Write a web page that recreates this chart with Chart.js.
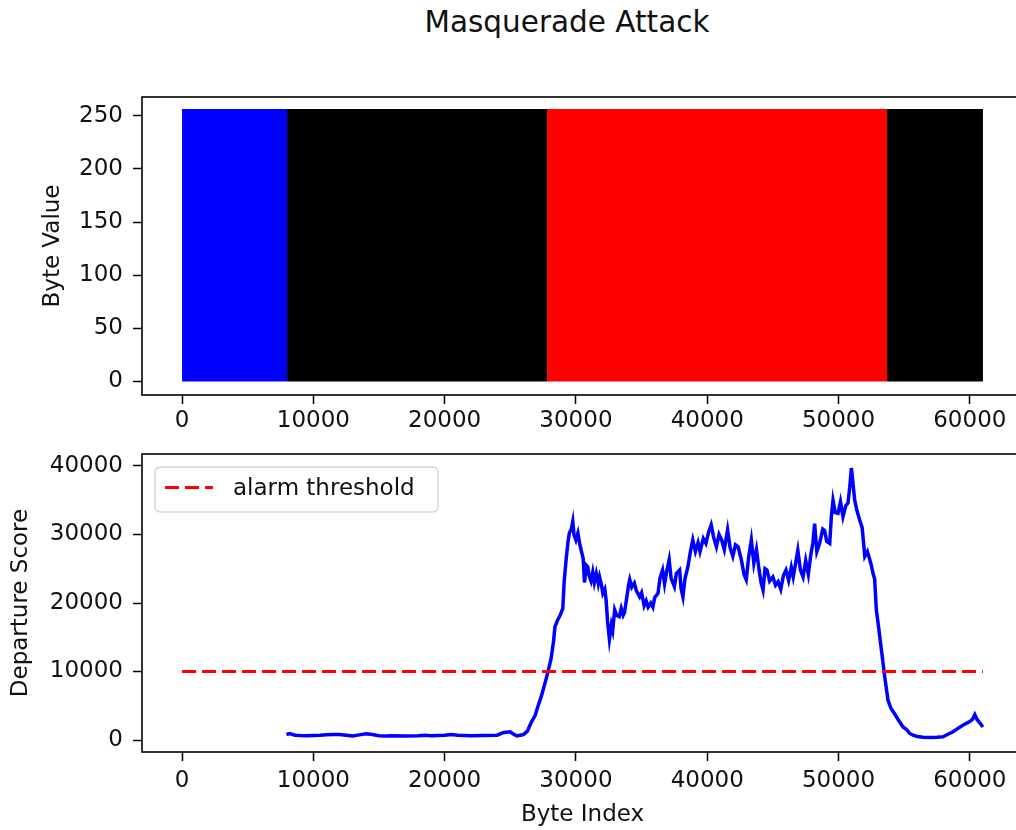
<!DOCTYPE html>
<html>
<head>
<meta charset="utf-8">
<script src="https://cdn.jsdelivr.net/npm/chart.js@4.4.1/dist/chart.umd.min.js"></script>
<style>
  html, body { margin: 0; padding: 0; background: #fff; overflow: hidden; width: 1016px; height: 830px; }
  #title { position: absolute; left: 0; top: 5px; width: 1134px; text-align: center;
           font: 29.5px "DejaVu Sans", sans-serif; line-height: 34px; color: #111; }
  canvas { position: absolute; left: 0; }
  #bytes { top: 0; }
  #score { top: 440px; }
</style>
</head>
<body>
<div id="title">Masquerade Attack</div>
<canvas id="bytes" width="1040" height="440"></canvas>
<canvas id="score" width="1040" height="390"></canvas>
<script>
// byte stream segments (start/end index), values span the full 0..255 range
const segStart = [0, 8000, 27800, 53700];
const segEnd = [8000, 27800, 53700, 61000];
const byteMax = 255;

const byteTicks = [0, 50, 100, 150, 200, 250];
const indexTicks = [0, 10000, 20000, 30000, 40000, 50000, 60000];
const scoreTicks = [0, 10000, 20000, 30000, 40000];

const threshold = 10000;
const thresholdStart = 0;
const thresholdEnd = 61000;

// departure score
const scoreIdx = [
  7950, 8200, 8600, 9000, 9500, 10000, 10500, 11000, 11500, 12000,
  12500, 13000, 13500, 14000, 14500, 15000, 15500, 16000, 17000, 18000,
  18500, 19000, 20000, 20500, 21000, 22000, 23000, 24000, 24500, 25000,
  25200, 25500, 26000, 26300, 26600, 26900, 27100, 27300, 27500, 27700,
  27900, 28100, 28300, 28400, 28600, 28800, 29000, 29100, 29250, 29400,
  29500, 29650, 29760, 29850, 30000, 30150, 30300, 30400, 30550, 30650,
  30800, 30900, 31000, 31150, 31280, 31400, 31550, 31700, 31800, 31950,
  32050, 32200, 32300, 32400, 32550, 32700, 32800, 32950, 33100, 33300,
  33450, 33600, 33700, 33850, 34000, 34100, 34250, 34450, 34600, 34850,
  35000, 35200, 35350, 35500, 35700, 35860, 36000, 36250, 36400, 36600,
  36750, 36900, 37100, 37250, 37500, 37650, 37900, 38000, 38150, 38300,
  38530, 38700, 38900, 39100, 39300, 39450, 39700, 39900, 40100, 40300,
  40500, 40700, 40900, 41100, 41300, 41550, 41750, 41950, 42150, 42350,
  42600, 42800, 42970, 43150, 43360, 43550, 43750, 43950, 44100, 44250,
  44400, 44550, 44750, 45000, 45200, 45400, 45600, 45800, 46000, 46200,
  46400, 46550, 46750, 46900, 47100, 47300, 47500, 47700, 47900, 48050,
  48180, 48350, 48560, 48800, 48940, 49100, 49330, 49450, 49580, 49750,
  49960, 50150, 50340, 50550, 50720, 50850, 50980, 51100, 51230, 51400,
  51610, 51800, 52000, 52200, 52380, 52500, 52630, 52750, 52880, 53050,
  53270, 53520, 53770, 54000, 54280, 54600, 54910, 55200, 55400, 55680,
  56000, 56440, 57000, 57500, 57960, 58300, 58720, 59100, 59490, 59800,
  60000, 60200, 60380, 60550, 60760, 61000
];
const scoreVal = [
  800, 950, 700, 650, 620, 650, 700, 780, 820, 800,
  700, 600, 750, 900, 800, 620, 600, 620, 600, 640,
  700, 620, 680, 800, 700, 620, 650, 700, 1100, 1200,
  900, 600, 800, 1300, 2600, 3600, 4900, 6000, 7300, 8700,
  10200, 11800, 14500, 16500, 17500, 18200, 19200, 23000, 26300, 29000,
  30200, 30800, 31900, 30000, 29200, 30200, 28500, 27700, 26500, 23000,
  25500, 25300, 24000, 23200, 24500, 23000, 24300, 22800, 23800, 22600,
  21400, 22000, 20400, 17500, 14700, 16800, 16000, 19000, 18200, 18000,
  19200, 18200, 18600, 20500, 22500, 23400, 22300, 22900, 21800, 20900,
  21500, 19600, 20300, 19400, 20000, 19400, 20800, 21400, 23600, 24800,
  22800, 24500, 26300, 23600, 22400, 24300, 24800, 22200, 20900, 23500,
  25300, 27300, 29200, 27500, 28800, 27500, 29400, 28700, 30300, 31400,
  29500, 28200, 30000, 29200, 27800, 30700, 28000, 26800, 28500, 28200,
  26300, 24200, 23400, 26600, 29200, 25800, 27800, 24800, 23000, 21900,
  25000, 24800, 23200, 23800, 22600, 23100, 22000, 24000, 24800, 23300,
  25200, 23800, 26000, 27700, 24800, 23800, 26200, 24200, 27200, 28800,
  31600, 27500, 28700, 30800, 30600, 29000, 28700, 32500, 35000, 33200,
  33100, 34800, 32600, 34200, 34600, 36800, 39700, 37500, 35000, 33500,
  32100, 31000, 26800, 27500, 26300, 25500, 24300, 23500, 19000, 16500,
  13100, 9200, 5800, 4600, 3800, 2800, 1900, 1500, 1000, 700,
  500, 400, 380, 420, 480, 800, 1200, 1700, 2200, 2500,
  2700, 3000, 3700, 3000, 2500, 1900
];

const SEG_COLORS = ["#0000ff", "#000000", "#ff0000", "#000000"];
const FONT = { family: "'DejaVu Sans', sans-serif", size: 23 };
const TEXT = "#111";

// full box round the axes, like matplotlib spines
const frame = {
  id: "frame",
  afterDraw(chart) {
    const { ctx, chartArea: a } = chart;
    ctx.save();
    ctx.strokeStyle = "#000";
    ctx.lineWidth = 1.6;
    ctx.strokeRect(a.left, a.top, a.right - a.left, a.bottom - a.top);
    ctx.restore();
  },
};

const legendBox = {
  id: "legendBox",
  afterDraw(chart) {
    const ds = chart.data.datasets.find((d) => d.label === "alarm threshold");
    const { ctx, chartArea: a } = chart;
    const x = a.left + 13, y = a.top + 13, w = 283, h = 45;
    ctx.save();
    ctx.beginPath();
    ctx.roundRect(x, y, w, h, 5);
    ctx.fillStyle = "rgba(255,255,255,0.8)";
    ctx.fill();
    ctx.strokeStyle = "#d6d6d6";
    ctx.lineWidth = 1.5;
    ctx.stroke();
    ctx.beginPath();
    ctx.setLineDash(ds.borderDash);
    ctx.strokeStyle = ds.borderColor;
    ctx.lineWidth = ds.borderWidth;
    ctx.moveTo(x + 10, y + h / 2 - 2);
    ctx.lineTo(x + 58, y + h / 2 - 2);
    ctx.stroke();
    ctx.setLineDash([]);
    ctx.font = `${FONT.size}px ${FONT.family}`;
    ctx.fillStyle = TEXT;
    ctx.textBaseline = "middle";
    ctx.fillText(ds.label, x + 78, y + h / 2);
    ctx.restore();
  },
};

function fixedTicks(values) {
  return (scale) => {
    scale.ticks = values.map((v) => ({ value: v }));
  };
}

// fixed box sizes so the plot areas land where the matplotlib axes are
function fitTo(prop, size) {
  return (s) => {
    s[prop] = size;
    s.paddingTop = 0;
    s.paddingBottom = 0;
    s.paddingLeft = 0;
    s.paddingRight = 0;
  };
}

function axis(min, max, values, extra) {
  return Object.assign(
    {
      type: "linear",
      min,
      max,
      afterBuildTicks: fixedTicks(values),
      ticks: { font: FONT, color: TEXT, callback: (v) => String(v) },
      grid: { drawOnChartArea: false, drawTicks: true, tickLength: 9, tickWidth: 1.5, tickColor: "#000" },
      border: { display: false },
    },
    extra
  );
}

const common = {
  responsive: false,
  animation: false,
  devicePixelRatio: 1,
  plugins: { legend: { display: false }, tooltip: { enabled: false } },
};

new Chart(document.getElementById("bytes"), {
  type: "line",
  data: {
    datasets: segStart.map((s, i) => ({
      data: [{ x: s, y: byteMax }, { x: segEnd[i], y: byteMax }],
      fill: "origin",
      backgroundColor: SEG_COLORS[i],
      borderColor: SEG_COLORS[i],
      borderWidth: 3,
      pointRadius: 0,
    })),
  },
  options: {
    ...common,
    layout: { padding: { top: 97, right: 17, left: 0, bottom: 0 } },
    scales: {
      x: axis(-3050, 64050, indexTicks, {
        ticks: { font: FONT, color: TEXT, padding: 3, maxRotation: 0, callback: (v) => String(v) },
        afterFit: fitTo("height", 45),
      }),
      y: axis(-12.75, 267.75, byteTicks, {
        ticks: { font: FONT, color: TEXT, padding: 10, callback: (v) => String(v) },
        title: { display: true, text: "Byte Value", font: FONT, color: TEXT, padding: { top: 39, bottom: 0 } },
        afterFit: fitTo("width", 142),
      }),
    },
  },
  plugins: [frame],
});

new Chart(document.getElementById("score"), {
  type: "line",
  data: {
    datasets: [
      {
        label: "alarm threshold",
        data: [{ x: thresholdStart, y: threshold }, { x: thresholdEnd, y: threshold }],
        borderColor: "#ff0000",
        borderDash: [14, 6],
        borderWidth: 3,
        pointRadius: 0,
        order: 0,
      },
      {
        label: "departure score",
        data: scoreIdx.map((x, i) => ({ x, y: scoreVal[i] })),
        borderColor: "#0000ff",
        borderWidth: 3.5,
        pointRadius: 0,
        tension: 0,
        order: 1,
      },
    ],
  },
  options: {
    ...common,
    layout: { padding: { top: 14, right: 17, left: 0, bottom: 0 } },
    scales: {
      x: axis(-3050, 64050, indexTicks, {
        ticks: { font: FONT, color: TEXT, padding: 6, maxRotation: 0, callback: (v) => String(v) },
        title: { display: true, text: "Byte Index", font: FONT, color: TEXT, padding: { top: 0, bottom: 1 } },
        afterFit: fitTo("height", 78),
      }),
      y: axis(-1750, 41750, scoreTicks, {
        ticks: { font: FONT, color: TEXT, padding: 10, callback: (v) => String(v) },
        title: { display: true, text: "Departure Score", font: FONT, color: TEXT, padding: { top: 7, bottom: 0 } },
        afterFit: fitTo("width", 142),
      }),
    },
  },
  plugins: [frame, legendBox],
});
</script>
</body>
</html>
